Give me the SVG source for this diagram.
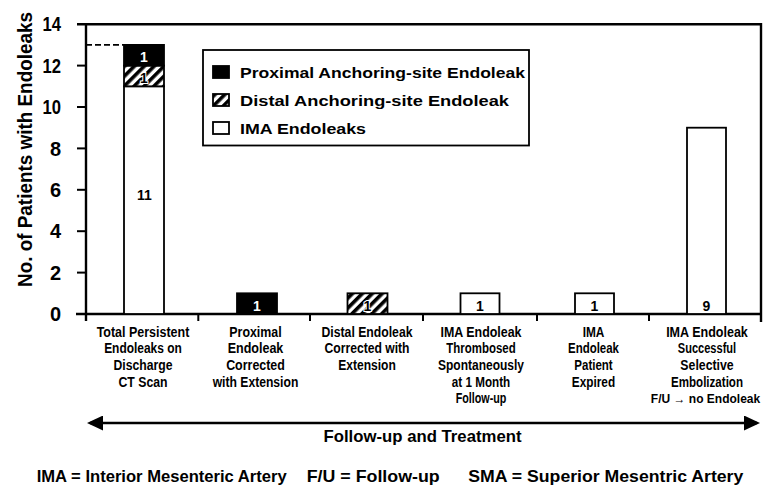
<svg xmlns="http://www.w3.org/2000/svg" width="763" height="491" viewBox="0 0 763 491">
<style>
text{font-family:"Liberation Sans",Arial,Helvetica,sans-serif;font-weight:bold;fill:#000}
.ax{stroke:#000;stroke-width:2.4;fill:none}
.tk{stroke:#000;stroke-width:2;fill:none}
.bar{stroke:#000;stroke-width:1.8}
.blk{fill:#000}
.wht{fill:#fff}
.hat{fill:url(#hatch)}
.yl{font-size:20px;text-anchor:end}
.cat{font-size:14px;text-anchor:middle}
.val{font-size:14px;text-anchor:middle}
.leg{font-size:15px}
.foot{font-size:16.5px}
</style>
<defs>
<pattern id="hatch" patternUnits="userSpaceOnUse" width="7" height="7" patternTransform="rotate(45)">
<rect x="0" y="0" width="7" height="7" fill="#fff"/>
<rect x="0" y="0" width="3.6" height="7" fill="#000"/>
</pattern>
<marker id="ah" markerUnits="userSpaceOnUse" markerWidth="16" markerHeight="15" refX="13" refY="7.5" orient="auto-start-reverse">
<path d="M0,0 L16,7.5 L0,15 Z" fill="#000"/>
</marker>
</defs>
<rect width="763" height="491" fill="#fff"/>

<g id="axes">
<line class="ax" x1="86" y1="23" x2="86" y2="321"/>
<line class="ax" x1="77" y1="24.2" x2="762" y2="24.2"/>
<line class="ax" x1="761" y1="23" x2="761" y2="322"/>
<line class="ax" x1="76" y1="314" x2="762" y2="314"/>
<g class="tk">
<line x1="77" y1="65.6" x2="86" y2="65.6"/>
<line x1="77" y1="107" x2="86" y2="107"/>
<line x1="77" y1="148.4" x2="86" y2="148.4"/>
<line x1="77" y1="189.8" x2="86" y2="189.8"/>
<line x1="77" y1="231.2" x2="86" y2="231.2"/>
<line x1="77" y1="272.6" x2="86" y2="272.6"/>
<line x1="198.3" y1="314" x2="198.3" y2="321"/>
<line x1="310" y1="314" x2="310" y2="321"/>
<line x1="423" y1="314" x2="423" y2="321"/>
<line x1="537" y1="314" x2="537" y2="321"/>
<line x1="649" y1="314" x2="649" y2="321"/>
</g>
<text class="yl" x="61" y="31.3" textLength="18.5" lengthAdjust="spacingAndGlyphs">14</text>
<text class="yl" x="61" y="72.7" textLength="18.5" lengthAdjust="spacingAndGlyphs">12</text>
<text class="yl" x="61" y="114.1" textLength="18.5" lengthAdjust="spacingAndGlyphs">10</text>
<text class="yl" x="61" y="155.5">8</text>
<text class="yl" x="61" y="196.9">6</text>
<text class="yl" x="61" y="238.3">4</text>
<text class="yl" x="61" y="279.7">2</text>
<text class="yl" x="61" y="321.1">0</text>
<text x="0" y="0" transform="translate(31.5,149.5) rotate(-90)" style="font-size:19.5px;text-anchor:middle" textLength="275" lengthAdjust="spacingAndGlyphs">No. of Patients with Endoleaks</text>
<line x1="86" y1="44.9" x2="124" y2="44.9" stroke="#000" stroke-width="1.6" stroke-dasharray="6 3"/>
</g>

<g id="bar-total">
<rect class="bar wht" x="124" y="86.3" width="40" height="227.7"/>
<rect class="bar hat" x="124" y="65.6" width="40" height="20.7"/>
<rect class="bar blk" x="124" y="44.9" width="40" height="20.7"/>
<text class="val" x="144" y="61.5" style="fill:#fff">1</text>
<text class="val" x="144" y="82.5" stroke="#fff" stroke-width="2" paint-order="stroke">1</text>
<text class="val" x="144.5" y="200">11</text>
</g>

<g id="bar-proximal">
<rect class="bar blk" x="237" y="293.3" width="40" height="20.7"/>
<text class="val" x="257" y="310.8" style="fill:#fff">1</text>
</g>

<g id="bar-distal">
<rect class="bar hat" x="347.5" y="293.3" width="40" height="20.7"/>
<text class="val" x="367.5" y="310.8" stroke="#fff" stroke-width="2" paint-order="stroke">1</text>
</g>

<g id="bar-thrombosed">
<rect class="bar wht" x="460.5" y="293.3" width="39" height="20.7"/>
<text class="val" x="480" y="310.8">1</text>
</g>

<g id="bar-expired">
<rect class="bar wht" x="575" y="293.3" width="39" height="20.7"/>
<text class="val" x="594.5" y="310.8">1</text>
</g>

<g id="bar-embolization">
<rect class="bar wht" x="687" y="127.7" width="39" height="186.3"/>
<text class="val" x="706.5" y="310.8">9</text>
</g>

<g id="legend">
<rect x="203" y="50" width="326" height="95.5" fill="#fff" stroke="#000" stroke-width="1.8"/>
<rect class="bar blk" x="213" y="66" width="16" height="12" stroke-width="1.2"/>
<rect class="bar hat" x="213" y="94" width="16" height="12" stroke-width="1.2"/>
<rect class="bar wht" x="213" y="122" width="16" height="12" stroke-width="1.2"/>
<text class="leg" x="240" y="78" textLength="285" lengthAdjust="spacingAndGlyphs">Proximal Anchoring-site Endoleak</text>
<text class="leg" x="240" y="105.5" textLength="269" lengthAdjust="spacingAndGlyphs">Distal Anchoring-site Endoleak</text>
<text class="leg" x="240" y="134" textLength="126" lengthAdjust="spacingAndGlyphs">IMA Endoleaks</text>
</g>

<g id="label-total">
<text class="cat" x="143" y="336.8" textLength="92.7" lengthAdjust="spacingAndGlyphs">Total Persistent</text>
<text class="cat" x="143" y="353.4" textLength="77.7" lengthAdjust="spacingAndGlyphs">Endoleaks on</text>
<text class="cat" x="143" y="370" textLength="59" lengthAdjust="spacingAndGlyphs">Discharge</text>
<text class="cat" x="143" y="386.6" textLength="49" lengthAdjust="spacingAndGlyphs">CT Scan</text>
</g>
<g id="label-proximal">
<text class="cat" x="255.5" y="336.8" textLength="52.3" lengthAdjust="spacingAndGlyphs">Proximal</text>
<text class="cat" x="255.5" y="353.4" textLength="55.7" lengthAdjust="spacingAndGlyphs">Endoleak</text>
<text class="cat" x="255.5" y="370" textLength="58.7" lengthAdjust="spacingAndGlyphs">Corrected</text>
<text class="cat" x="255.5" y="386.6" textLength="85.7" lengthAdjust="spacingAndGlyphs">with Extension</text>
</g>
<g id="label-distal">
<text class="cat" x="367" y="336.8" textLength="91" lengthAdjust="spacingAndGlyphs">Distal Endoleak</text>
<text class="cat" x="367" y="353.4" textLength="85" lengthAdjust="spacingAndGlyphs">Corrected with</text>
<text class="cat" x="367" y="370" textLength="57.7" lengthAdjust="spacingAndGlyphs">Extension</text>
</g>
<g id="label-thrombosed">
<text class="cat" x="481" y="336.8" textLength="81" lengthAdjust="spacingAndGlyphs">IMA Endoleak</text>
<text class="cat" x="481" y="353.4" textLength="69.3" lengthAdjust="spacingAndGlyphs">Thrombosed</text>
<text class="cat" x="481" y="370" textLength="86" lengthAdjust="spacingAndGlyphs">Spontaneously</text>
<text class="cat" x="481" y="386.6" textLength="58.3" lengthAdjust="spacingAndGlyphs">at 1 Month</text>
<text class="cat" x="481" y="403.2" textLength="50.7" lengthAdjust="spacingAndGlyphs">Follow-up</text>
</g>
<g id="label-expired">
<text class="cat" x="593.5" y="336.8" textLength="21.7" lengthAdjust="spacingAndGlyphs">IMA</text>
<text class="cat" x="593.5" y="353.4" textLength="51" lengthAdjust="spacingAndGlyphs">Endoleak</text>
<text class="cat" x="593.5" y="370" textLength="38.4" lengthAdjust="spacingAndGlyphs">Patient</text>
<text class="cat" x="593.5" y="386.6" textLength="43.3" lengthAdjust="spacingAndGlyphs">Expired</text>
</g>
<g id="label-embolization">
<text class="cat" x="707" y="336.8" textLength="81.7" lengthAdjust="spacingAndGlyphs">IMA Endoleak</text>
<text class="cat" x="707" y="353.4" textLength="58.3" lengthAdjust="spacingAndGlyphs">Successful</text>
<text class="cat" x="707" y="370" textLength="53.3" lengthAdjust="spacingAndGlyphs">Selective</text>
<text class="cat" x="707" y="386.6" textLength="72" lengthAdjust="spacingAndGlyphs">Embolization</text>
<text class="cat" x="705.5" y="403.2" style="font-size:12px">F/U → no Endoleak</text>
</g>

<g id="connectors">
<line x1="90" y1="423" x2="757" y2="423" stroke="#000" stroke-width="2.6" marker-start="url(#ah)" marker-end="url(#ah)"/>
</g>
<text class="foot" x="422.5" y="441.5" text-anchor="middle" textLength="198" lengthAdjust="spacingAndGlyphs">Follow-up and Treatment</text>

<g id="footnote">
<text class="foot" x="36.7" y="481.5" textLength="250" lengthAdjust="spacingAndGlyphs">IMA = Interior Mesenteric Artery</text>
<text class="foot" x="306.7" y="481.5" textLength="133" lengthAdjust="spacingAndGlyphs">F/U = Follow-up</text>
<text class="foot" x="468.3" y="481.5" textLength="275" lengthAdjust="spacingAndGlyphs">SMA = Superior Mesentric Artery</text>
</g>
</svg>
